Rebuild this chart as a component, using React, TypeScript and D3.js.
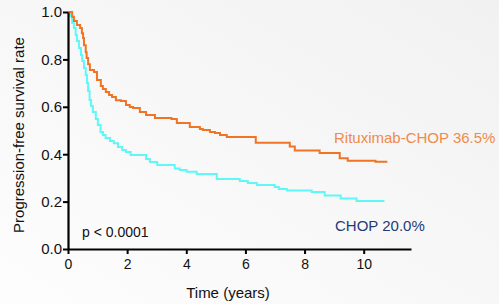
import React, { useEffect, useRef } from 'react';
import * as d3 from 'd3';

// Kaplan-Meier steps: [time in years, survival after the drop]
const rchopSteps: [number, number][] = [
  [0, 1.0], [0.14, 0.98], [0.2, 0.962], [0.3, 0.945], [0.41, 0.932], [0.47, 0.91],
  [0.51, 0.89], [0.54, 0.86], [0.6, 0.83], [0.63, 0.806], [0.68, 0.78], [0.74, 0.755],
  [0.88, 0.747], [0.98, 0.713], [1.11, 0.688], [1.18, 0.675], [1.28, 0.662], [1.39, 0.65],
  [1.49, 0.641], [1.62, 0.628], [1.79, 0.624], [1.96, 0.608], [2.09, 0.599], [2.2, 0.595],
  [2.43, 0.578], [2.64, 0.565], [2.94, 0.553], [3.5, 0.549], [3.68, 0.532], [4.12, 0.515],
  [4.46, 0.506], [4.56, 0.502], [4.8, 0.494], [4.97, 0.489], [5.14, 0.481], [5.37, 0.473],
  [6.35, 0.448], [7.5, 0.432], [7.67, 0.416], [8.51, 0.405], [9.19, 0.383], [9.46, 0.372],
  [10.4, 0.368], [10.8, 0.368],
];

const chopSteps: [number, number][] = [
  [0, 1.0], [0.07, 0.983], [0.14, 0.954], [0.2, 0.932], [0.26, 0.903], [0.3, 0.878],
  [0.37, 0.848], [0.44, 0.819], [0.48, 0.793], [0.54, 0.764], [0.6, 0.734], [0.64, 0.7],
  [0.68, 0.667], [0.73, 0.629], [0.78, 0.603], [0.84, 0.578], [0.94, 0.549], [1.01, 0.523],
  [1.1, 0.494], [1.18, 0.481], [1.27, 0.468], [1.42, 0.456], [1.55, 0.446], [1.69, 0.43],
  [1.83, 0.418], [1.96, 0.409], [2.12, 0.397], [2.64, 0.38], [2.77, 0.367], [3.02, 0.354],
  [3.61, 0.34], [3.78, 0.333], [4.01, 0.326], [4.35, 0.316], [5.03, 0.295], [5.81, 0.287],
  [6.08, 0.278], [6.39, 0.27], [6.99, 0.262], [7.13, 0.253], [7.4, 0.247], [8.24, 0.24],
  [8.68, 0.226], [9.22, 0.213], [9.76, 0.203], [10.7, 0.203],
];

const xTicks = [0, 2, 4, 6, 8, 10];
const yTicks = [0, 0.2, 0.4, 0.6, 0.8, 1.0];
const seriesLabels = ['Rituximab-CHOP 36.5%', 'CHOP 20.0%'];

const App: React.FC = () => {
  const svgRef = useRef<SVGSVGElement>(null);
  const width = 499;
  const height = 304;

  useEffect(() => {
    if (!svgRef.current) return;
    const svg = d3.select(svgRef.current);
    svg.selectAll('*').remove();

    const margin = { top: 12, left: 68 };
    const plotW = 343;
    const plotH = 237;

    // Background
    const defs = svg.append('defs');
    const grad = defs.append('linearGradient')
      .attr('id', 'bg')
      .attr('x1', '0%').attr('y1', '100%')
      .attr('x2', '100%').attr('y2', '0%');
    grad.append('stop').attr('offset', '0%').attr('stop-color', '#fdfdfd');
    grad.append('stop').attr('offset', '45%').attr('stop-color', '#f8f8f8');
    grad.append('stop').attr('offset', '100%').attr('stop-color', '#f1f1f1');
    svg.append('rect').attr('width', width).attr('height', height).attr('fill', 'url(#bg)');

    const x = d3.scaleLinear().domain([0, 11.6]).range([margin.left, margin.left + plotW]);
    const y = d3.scaleLinear().domain([0, 1]).range([margin.top + plotH, margin.top]);

    const line = d3.line<[number, number]>()
      .x(d => x(d[0]))
      .y(d => y(d[1]))
      .curve(d3.curveStepAfter);

    svg.append('path')
      .attr('d', line(chopSteps) || '')
      .attr('fill', 'none')
      .attr('stroke', '#5ff7f7')
      .attr('stroke-width', 2);

    svg.append('path')
      .attr('d', line(rchopSteps) || '')
      .attr('fill', 'none')
      .attr('stroke', '#f07424')
      .attr('stroke-width', 2);

    // Y axis
    const yAxis = svg.append('g')
      .attr('transform', `translate(${margin.left},0)`)
      .call(d3.axisLeft(y).tickValues(yTicks).tickFormat(d3.format('.1f')).tickSize(5).tickSizeOuter(0));
    yAxis.select('.domain').attr('stroke', '#000').attr('stroke-width', 2.2);
    yAxis.selectAll('.tick line').attr('stroke', '#000').attr('stroke-width', 2);
    yAxis.selectAll('.tick text')
      .attr('x', -6)
      .style('font-family', 'Arial, "Liberation Sans", sans-serif')
      .style('font-size', '15px')
      .style('fill', '#111');

    // X axis
    const xAxis = svg.append('g')
      .attr('transform', `translate(0,${margin.top + plotH})`)
      .call(d3.axisBottom(x).tickValues(xTicks).tickFormat(d3.format('d')).tickSize(5).tickSizeOuter(0));
    xAxis.select('.domain').attr('stroke', '#000').attr('stroke-width', 2.2);
    xAxis.selectAll('.tick line').attr('stroke', '#000').attr('stroke-width', 2);
    xAxis.selectAll('.tick text')
      .attr('y', 10)
      .style('font-family', 'Arial, "Liberation Sans", sans-serif')
      .style('font-size', '14px')
      .style('fill', '#111');

    // Axis titles
    svg.append('text')
      .attr('x', 228)
      .attr('y', 298)
      .attr('text-anchor', 'middle')
      .style('font-family', 'Arial, "Liberation Sans", sans-serif')
      .style('font-size', '15px')
      .style('fill', '#111')
      .text('Time (years)');

    svg.append('text')
      .attr('transform', `translate(24,135) rotate(-90)`)
      .attr('text-anchor', 'middle')
      .style('font-family', 'Arial, "Liberation Sans", sans-serif')
      .style('font-size', '15px')
      .style('fill', '#111')
      .text('Progression-free survival rate');

    // Annotations
    svg.append('text')
      .attr('x', 82)
      .attr('y', 237)
      .style('font-family', 'Arial, "Liberation Sans", sans-serif')
      .style('font-size', '14px')
      .style('fill', '#111')
      .text('p < 0.0001');

    svg.append('text')
      .attr('x', 334)
      .attr('y', 143)
      .style('font-family', 'Arial, "Liberation Sans", sans-serif')
      .style('font-size', '15px')
      .style('fill', '#f08a4c')
      .text(seriesLabels[0]);

    svg.append('text')
      .attr('x', 335)
      .attr('y', 231)
      .style('font-family', 'Arial, "Liberation Sans", sans-serif')
      .style('font-size', '15px')
      .style('fill', '#1f3a78')
      .text(seriesLabels[1]);
  }, []);

  return (
    <svg
      ref={svgRef}
      width={width}
      height={height}
      style={{ position: 'absolute', left: 0, top: 0, display: 'block' }}
    />
  );
};

export default App;
